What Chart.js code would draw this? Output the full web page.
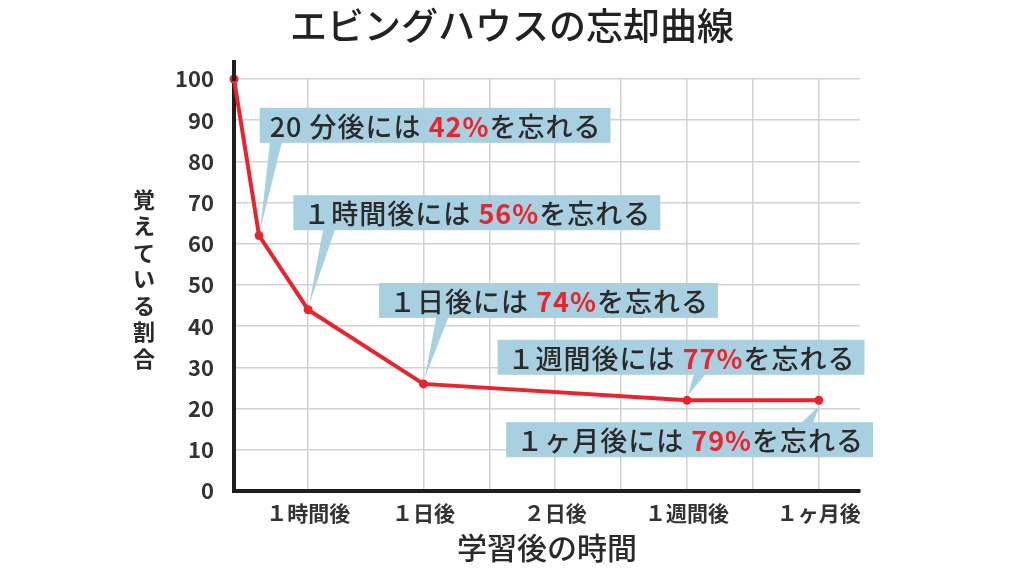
<!DOCTYPE html>
<html><head><meta charset="utf-8">
<script src="https://cdn.jsdelivr.net/npm/chart.js@4"></script>
<style>html,body{margin:0;padding:0;background:#fff;}#wrap{width:1024px;height:576px;position:relative;}</style>
</head><body><div id="wrap"><canvas id="c"></canvas></div>
<script>
// ---- data ----
const chartTitle = 'エビングハウスの忘却曲線';
const yTitle = '覚えている割合';
const xTitle = '学習後の時間';
const elapsedLabels = ['学習直後', '20分後', '１時間後', '１日後', '１週間後', '１ヶ月後'];
const elapsedPos = [0, 0.38, 1.125, 2.875, 6.875, 8.875];
const retention = [100, 62, 44, 26, 22, 22];
const xTickPos = [1.125, 2.875, 3.875, 4.875, 5.875, 6.875, 7.875, 8.875];
const xTickLabels = ['１時間後', '１日後', '', '２日後', '', '１週間後', '', '１ヶ月後'];
const calloutLead = ['20 分後には ', '１時間後には ', '１日後には ', '１週間後には ', '１ヶ月後には '];
const forgotPct = [42, 56, 74, 77, 79];
const calloutTail = 'を忘れる';

// ---- style / layout ----
const FONT = "'Noto Sans CJK JP', 'Noto Sans', sans-serif";
const DARK = '#2a2a2a';
const RED = '#e8252e';
const BOX = '#a9d0e1';
const GRID = '#d2d2d2';
const calloutLayout = [
  { bx: 0.39, by: 93.0, side: 'bottom', baseDx: 17 },
  { bx: 0.90, by: 71.8, side: 'bottom', baseDx: 21 },
  { bx: 2.20, by: 50.5, side: 'bottom', baseDx: 19 },
  { bx: 4.00, by: 36.7, side: 'bottom', baseDx: 13 },
  { bx: 4.13, by: 16.7, side: 'top', baseDx: -12 }
];

const points = elapsedPos.map((x, i) => ({ x: x, y: retention[i] }));

const extrasPlugin = {
  id: 'extras',
  afterDraw(chart) {
    const ctx = chart.ctx, ca = chart.chartArea;
    const xs = chart.scales.x, ys = chart.scales.y;
    ctx.save();
    // main title centred on the canvas
    ctx.fillStyle = '#222';
    ctx.font = '500 37px ' + FONT;
    ctx.textAlign = 'center';
    ctx.textBaseline = 'middle';
    ctx.fillText(chartTitle, chart.width / 2, 26);
    // y axis line extension above 100
    ctx.strokeStyle = '#1e1e1e';
    ctx.lineWidth = 4;
    ctx.beginPath();
    ctx.moveTo(ca.left, ca.top + 2);
    ctx.lineTo(ca.left, ca.top - 19);
    ctx.stroke();
    // vertical y title, upright characters
    ctx.fillStyle = DARK;
    ctx.font = 'bold 22px ' + FONT;
    const chars = Array.from(yTitle);
    const step = 26.5;
    const cy = (ca.top + ca.bottom) / 2 - 6;
    const x0 = ca.left - 90;
    chars.forEach((ch, i) => {
      ctx.fillText(ch, x0, cy + (i - (chars.length - 1) / 2) * step);
    });
    // callouts
    ctx.letterSpacing = '1px';
    const fMain = '500 27px ' + FONT;
    const fNum = '600 27px ' + FONT;
    const padX = 10, boxH = 35;
    calloutLayout.forEach((L, i) => {
      const pt = points[i + 1];
      const px = xs.getPixelForValue(pt.x), py = ys.getPixelForValue(pt.y);
      const lead = calloutLead[i], num = forgotPct[i] + '%';
      ctx.font = fMain; const w1 = ctx.measureText(lead).width;
      ctx.font = fNum; const w2 = ctx.measureText(num).width;
      ctx.font = fMain; const w3 = ctx.measureText(calloutTail).width;
      const bx = xs.getPixelForValue(L.bx), by = ys.getPixelForValue(L.by);
      const bw = w1 + w2 + w3 + padX * 2 - 1;
      ctx.fillStyle = BOX;
      ctx.fillRect(bx, by, bw, boxH);
      // wedge
      const baseY = L.side === 'bottom' ? by + boxH : by;
      const bc = px + L.baseDx;
      const dir = L.side === 'bottom' ? 1 : -1;
      const tipY = py - dir * 5;
      ctx.beginPath();
      ctx.moveTo(bc - 6, baseY - dir * 1);
      ctx.lineTo(bc + 6, baseY - dir * 1);
      ctx.lineTo(px + 1, tipY);
      ctx.closePath();
      ctx.fill();
      // text
      ctx.textAlign = 'left';
      ctx.textBaseline = 'middle';
      const ty = by + boxH / 2 + 1;
      let tx = bx + padX;
      ctx.fillStyle = DARK; ctx.font = fMain; ctx.fillText(lead, tx, ty); tx += w1;
      ctx.fillStyle = RED; ctx.font = fNum; ctx.fillText(num, tx, ty); tx += w2;
      ctx.fillStyle = DARK; ctx.font = fMain; ctx.fillText(calloutTail, tx, ty);
    });
    ctx.restore();
  }
};

new Chart(document.getElementById('c'), {
  type: 'line',
  data: {
    labels: elapsedLabels,
    datasets: [{
      label: '覚えている割合',
      data: points,
      borderColor: RED,
      backgroundColor: RED,
      borderWidth: 4,
      pointRadius: 4.5,
      pointBackgroundColor: RED,
      pointBorderWidth: 0,
      tension: 0,
      clip: false
    }]
  },
  options: {
    responsive: true,
    maintainAspectRatio: false,
    animation: false,
    layout: { padding: { top: 79, right: 164, bottom: 0, left: 0 } },
    plugins: {
      legend: { display: false },
      tooltip: { enabled: false },
      title: { display: false }
    },
    scales: {
      x: {
        type: 'linear',
        min: 0,
        max: 9.5,
        afterBuildTicks: (s) => { s.ticks = xTickPos.map(v => ({ value: v })); },
        afterFit: (s) => { s.height = 85; },
        grid: { color: GRID, lineWidth: 1.5, drawTicks: false },
        border: { color: '#1e1e1e', width: 4 },
        ticks: {
          autoSkip: false,
          maxRotation: 0,
          padding: 9,
          color: '#333',
          font: { family: FONT, size: 21, weight: 'bold' },
          callback: (v, i) => xTickLabels[i]
        },
        title: {
          display: true,
          text: xTitle,
          color: DARK,
          font: { family: FONT, size: 30, weight: '500', lineHeight: 1.2 },
          padding: { top: 0, bottom: 10 }
        }
      },
      y: {
        min: 0,
        max: 100,
        afterFit: (s) => { s.width = 234; },
        grid: { color: GRID, lineWidth: 1.5, drawTicks: false },
        border: { color: '#1e1e1e', width: 4 },
        ticks: {
          stepSize: 10,
          padding: 20,
          color: '#333',
          font: { family: FONT, size: 22, weight: '600' }
        }
      }
    }
  },
  plugins: [extrasPlugin]
});
</script>
</body></html>
